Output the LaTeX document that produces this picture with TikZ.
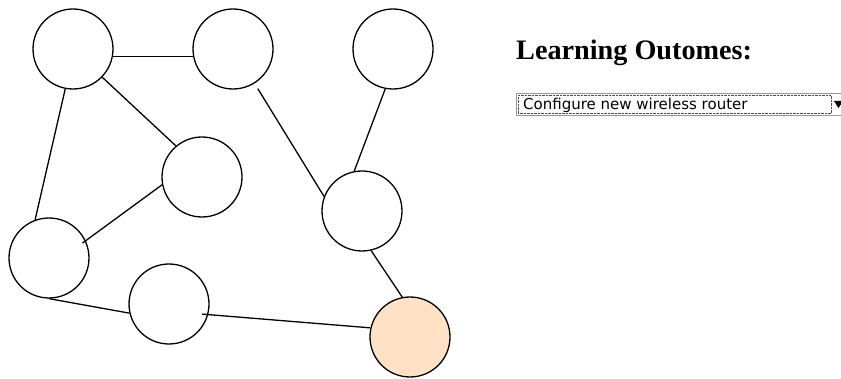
\documentclass[tikz,border=0pt]{standalone}
\usepackage{fontspec}
\setmainfont{Liberation Serif}
\newfontfamily\menufont{DejaVu Sans}
\usepackage{xcolor}
\usetikzlibrary{
  calc,
  positioning}
\definecolor{peach}{RGB}{255,225,197}
\tikzset{
  topic/.style={%
    shape=circle,
    fill=white,
    draw=black,
    line width=1.3pt,
    minimum size=80pt,
    inner sep=0pt
  },
  goal/.style={%
    topic,
    fill=peach
  },
  link/.style={%
    line width=1.3pt
  }%
}

\begin{document}
\begin{tikzpicture}[x=1pt,y=-1pt]

% Fix the page to the size of the screenshot.
\useasboundingbox (0,0) rectangle (841,379);

% Top row of topics.
\node[topic] (wiring) at (73,49) {};
\node[topic] (address) at (233,49) {};
\node[topic] (security) at (393,49) {};
% Middle topics.
\node[topic] (subnet) at (202,177) {};
\node[topic] (channel) at (362,211) {};
% Bottom topics, the last one is the outcome.
\node[topic] (cable) at (49,258) {};
\node[topic] (dhcp) at (169,304) {};
\node[goal] (router) at (410,337) {};

% The links do not all stop at the rims, as in the sketch.
\draw[link] (wiring.-11) -- (address.191);
\draw[link] (wiring.-101) -- (cable.110);
\draw[link] (wiring.-44) -- (subnet.130);
\draw[link] (subnet.191) -- ($(cable.center)!0.9!(cable.24)$);
\draw[link] ($(address.center)!1.15!(address.-58)$) -- (channel.159);
\draw[link] (security.-101) -- (channel.101);
\draw[link] (channel.-77) -- (router.101);
\draw[link] (cable.-90) -- (dhcp.193);
\draw[link] ($(dhcp.center)!0.85!(dhcp.-17)$) -- (router.167);

% Heading and drop-down list on the right.
\node[anchor=base west, inner sep=0pt, font=\bfseries\fontsize{28.2}{30}\selectfont]
  (heading) at (516,60) {Learning Outomes:};
\node[anchor=north west, draw=gray!80, line width=1pt, minimum width=340pt,
  minimum height=22pt, inner sep=0pt] (menu) at (516,93) {};
\node[draw=black!70, densely dotted, minimum width=313pt, minimum height=18pt,
  inner sep=0pt, anchor=west] (focus) at ($(menu.west)+(2,0)$) {};
\node[anchor=west, inner sep=0pt, font=\menufont\fontsize{15}{17}\selectfont]
  (choice) at ($(menu.west)+(7,0.5)$) {Configure new wireless router};
\fill (834,101) -- (843,101) -- (838.5,108) -- cycle;

\end{tikzpicture}
\end{document}
